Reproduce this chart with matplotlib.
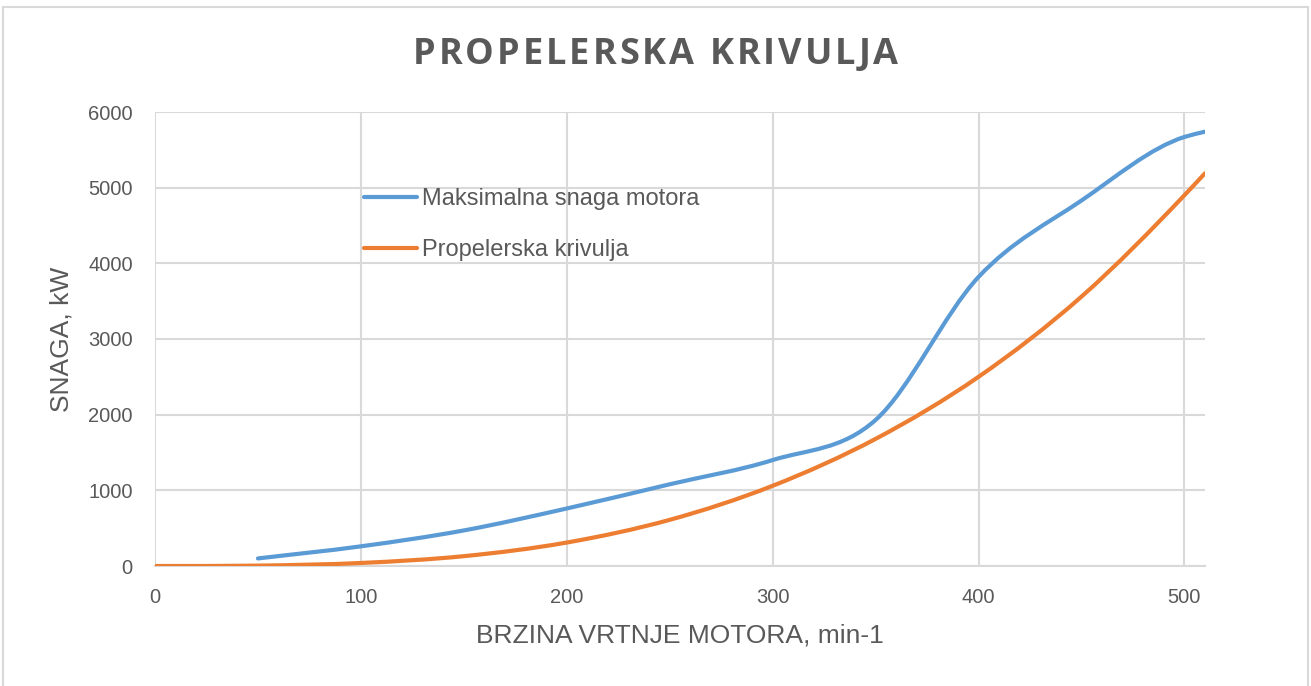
import numpy as np
import matplotlib.pyplot as plt
from matplotlib.path import Path
from matplotlib.patches import PathPatch, Rectangle
from matplotlib.lines import Line2D

# Data
rpm_max = [50, 100, 150, 200, 250, 300, 350, 400, 450, 500, 510]
power_max = [100, 260, 470, 760, 1080, 1400, 1930, 3820, 4830, 5670, 5740]

rpm_prop = [0, 50, 100, 150, 200, 250, 300, 350, 400, 450, 500, 510]
power_prop = [0, 5, 40, 130, 310, 610, 1060, 1680, 2500, 3560, 4900, 5190]

labels = ['Maksimalna snaga motora', 'Propelerska krivulja']
colors = ['#5B9BD5', '#ED7D31']
title = 'PROPELERSKA KRIVULJA'
grey = '#595959'


def smooth_path(x, y):
    # smoothed line like Excel: cubic Bezier through every data point
    x = np.asarray(x, float)
    y = np.asarray(y, float)
    n = len(x)
    s = np.diff(y) / np.diff(x)
    h = np.diff(x)
    m = np.empty(n)
    m[0], m[-1] = s[0], s[-1]
    for i in range(1, n - 1):
        m[i] = (h[i] * s[i - 1] + h[i - 1] * s[i]) / (h[i - 1] + h[i])
    verts = [(x[0], y[0])]
    codes = [Path.MOVETO]
    for i in range(n - 1):
        d = h[i] / 3.0
        verts += [(x[i] + d, y[i] + m[i] * d),
                  (x[i + 1] - d, y[i + 1] - m[i + 1] * d),
                  (x[i + 1], y[i + 1])]
        codes += [Path.CURVE4] * 3
    return Path(verts, codes)


fig = plt.figure(figsize=(13.11, 6.86), dpi=100)
ax = fig.add_axes([155 / 1311, 1 - 566 / 686, 1050 / 1311, 454 / 686])

for xs, ys, c in [(rpm_max, power_max, colors[0]), (rpm_prop, power_prop, colors[1])]:
    patch = PathPatch(smooth_path(xs, ys), facecolor='none', edgecolor=c,
                      linewidth=3.0, capstyle='round', joinstyle='round', zorder=3)
    ax.add_patch(patch)

ax.set_xlim(0, 510)
ax.set_ylim(0, 6000)
ax.set_xticks(range(0, 501, 100))
ax.set_yticks(range(0, 6001, 1000))
ax.grid(True, color='#d9d9d9', linewidth=1.5)
ax.set_axisbelow(True)
for s in ['top', 'right', 'left']:
    ax.spines[s].set_visible(False)
ax.spines['bottom'].set_color('#d9d9d9')
ax.spines['bottom'].set_linewidth(1.5)
ax.tick_params(axis='x', length=0, labelsize=14.5, labelcolor=grey, pad=16)
ax.tick_params(axis='y', length=0, labelsize=14.5, labelcolor=grey, pad=16)
for t in ax.get_xticklabels() + ax.get_yticklabels():
    t.set_fontfamily('Liberation Sans')

ax.set_xlabel('BRZINA VRTNJE MOTORA, min-1', fontsize=19, color=grey,
              family='Liberation Sans', va='center')
ax.xaxis.set_label_coords(0.5, -(636 - 566) / 454)
ax.set_ylabel('SNAGA, kW', fontsize=19, color=grey,
              family='Liberation Sans', va='center')
ax.yaxis.set_label_coords(-(155 - 62) / 1050, 0.5)

# title with letter spacing, drawn char by char
renderer = fig.canvas.get_renderer()
tprops = dict(fontsize=26, fontweight='bold', color=grey, family='Open Sans')
spacing = 3.0
widths = []
for i in range(len(title) + 1):
    t = fig.text(0, 0, title[:i] + '|', **tprops)
    bar = fig.text(0, 0, '|', **tprops)
    widths.append(t.get_window_extent(renderer).width - bar.get_window_extent(renderer).width)
    t.remove()
    bar.remove()
total = widths[-1] + spacing * (len(title) - 1)
x0 = 1311 / 2 - total / 2
for i, ch in enumerate(title):
    if ch == ' ':
        continue
    fig.text((x0 + widths[i] + spacing * i) / 1311, 1 - 55 / 686, ch,
             ha='left', va='center', **tprops)

handles = [Line2D([], [], color=c, linewidth=3.0, solid_capstyle='round') for c in colors]
leg = ax.legend(handles, labels, loc='upper left',
                bbox_to_anchor=((364 - 155) / 1050, (566 - 188) / 454),
                frameon=False, labelcolor=grey, handlelength=2.25,
                handletextpad=0.2, labelspacing=1.22, borderpad=0, borderaxespad=0,
                prop={'family': 'Liberation Sans', 'size': 17})

fig.patches.append(Rectangle((3 / 1311, -0.02), 1305 / 1311, 1.02 - 7 / 686,
                             transform=fig.transFigure, fill=False,
                             edgecolor='#d9d9d9', linewidth=1.5))

fig.savefig('out.png', dpi=100)
